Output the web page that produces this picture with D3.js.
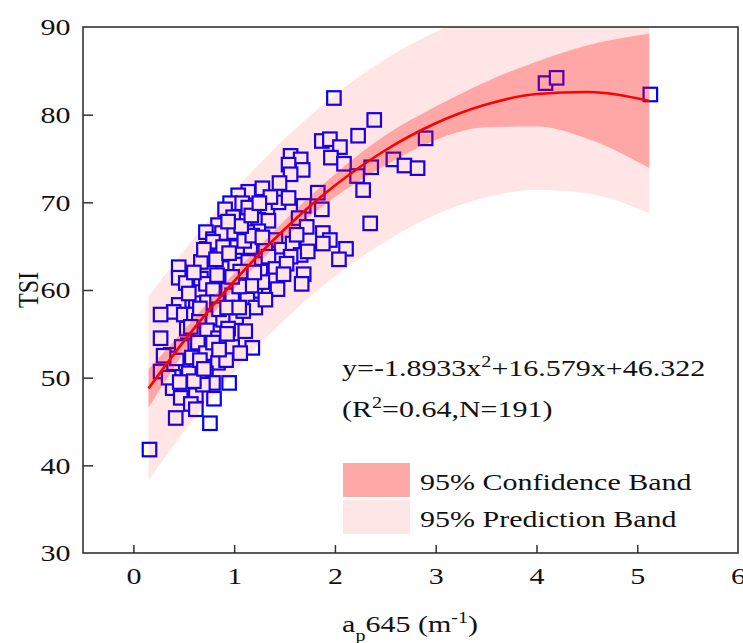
<!DOCTYPE html>
<html><head><meta charset="utf-8">
<script src="https://cdn.jsdelivr.net/npm/d3@7"></script>
<style>
html,body{margin:0;padding:0;background:#fff;}
svg text{font-family:"Liberation Serif","Times New Roman",serif;fill:#111;}
</style></head>
<body>
<svg id="chart" width="743" height="643"></svg>
<script>
// ---------- data ----------
const xTicks = [0, 1, 2, 3, 4, 5, 6];
const yTicks = [30, 40, 50, 60, 70, 80, 90];

const pointsX = [
  1.99,2.39,2.23,1.87,1.95,2.05,1.96,2.09,2.22,2.36,2.58,2.69,2.82,2.90,2.28,2.35,4.09,4.20,5.13,
  1.56,1.66,1.54,1.68,1.56,1.45,1.28,1.14,1.04,0.96,1.08,0.91,1.14,1.33,1.44,1.54,1.69,1.83,1.87,
  0.99,0.84,0.72,0.79,0.88,1.00,1.24,1.34,1.24,1.13,1.64,1.72,1.88,1.95,1.59,1.41,1.47,1.21,1.16,1.31,1.58,1.03,0.73,0.79,0.89,2.11,1.88,
  2.04,1.69,1.66,1.56,1.43,1.34,1.26,1.41,1.39,1.43,1.29,1.09,1.21,1.28,0.73,0.67,0.89,1.01,0.45,0.45,0.67,0.72,0.52,0.89,0.79,0.94,1.67,1.14,1.06,
  0.45,0.62,0.73,0.83,0.98,0.40,0.50,0.60,0.65,0.79,0.89,1.02,0.73,0.94,0.27,0.27,1.13,1.21,1.09,1.11,1.31,0.53,0.84,
  0.37,0.27,0.54,0.64,0.72,0.79,0.98,0.84,0.95,0.52,0.62,0.40,0.55,0.72,0.79,0.39,0.50,0.62,0.47,0.69,0.42,0.76,0.16,1.18,1.06,0.92,0.57,
  0.35,0.43,0.48,0.58,0.66,0.60,0.70,0.85,0.93,0.57,0.66,0.85,0.93,1.05,1.17,1.05,0.98,0.83,0.60,0.55,
  0.70,0.82,0.95,1.10,1.18,1.28,1.07,0.94,1.17,1.36,1.25,1.62,1.52,1.73,1.49,1.20,0.30,0.46,0.80,0.62
];
const pointsY = [
  81.9,79.4,77.6,77.0,77.2,76.3,75.1,74.4,73.0,74.0,74.9,74.2,73.9,77.3,71.4,67.6,83.6,84.2,82.3,
  75.3,74.9,74.3,73.7,73.2,72.2,71.6,71.2,70.8,69.9,69.9,69.2,69.4,69.1,70.0,70.5,69.6,71.1,69.2,
  68.3,67.4,66.6,65.8,66.5,66.6,68.0,67.9,66.7,66.6,68.2,67.2,66.5,65.7,64.9,65.7,64.6,65.7,64.9,64.5,65.3,64.9,64.7,65.5,64.9,64.7,65.3,
  63.5,61.8,64.0,63.8,63.4,63.8,62.1,62.4,61.1,60.1,60.0,60.2,59.9,60.9,63.7,63.2,62.5,62.9,62.6,61.4,61.3,60.7,60.8,60.9,60.0,60.0,60.7,63.2,62.1,
  58.3,58.5,58.6,58.6,59.4,57.5,57.2,57.2,56.5,56.8,56.6,56.9,55.4,55.6,54.5,57.2,58.9,58.0,57.6,55.3,58.9,55.6,54.5,
  52.6,50.7,53.7,54.0,52.8,54.0,53.5,51.7,49.4,51.2,51.5,50.1,50.5,50.5,49.4,48.8,48.6,48.0,47.7,49.2,45.4,44.8,41.8,53.4,52.8,52.0,47.0,
  50.0,52.2,53.5,52.3,52.0,49.6,51.0,53.2,55.0,55.8,57.9,57.8,58.0,58.0,60.5,60.4,61.5,61.7,62.0,59.6,
  64.6,63.5,64.2,65.6,66.2,66.0,67.3,67.8,68.5,70.6,69.9,66.3,63.0,64.4,61.8,62.0,52.5,49.5,47.6,46.4
];

// fitted curve and bands, read at these x positions
const bandX     = [0.15, 0.5, 1.0, 1.5, 2.0, 2.5, 3.0, 3.5, 4.0, 4.5, 5.12];
const fitY      = [48.77, 54.14, 61.01, 66.93, 71.91, 75.94, 79.02, 81.16, 82.35, 82.59, 81.57];
const confLow   = [46.57, 52.84, 60.11, 65.93, 70.61, 74.24, 77.12, 78.56, 78.65, 77.29, 73.92];
const confHigh  = [50.97, 55.44, 61.91, 67.93, 73.21, 77.64, 80.92, 83.76, 86.05, 87.89, 89.22];
const predLow   = [38.28, 43.80, 50.71, 56.62, 61.57, 65.54, 68.58, 70.57, 71.44, 71.04, 68.77];
const predHigh  = [59.26, 64.48, 71.31, 77.24, 82.25, 86.34, 89.46, 91.75, 93.26, 94.14, 94.37];

const legendLabels = ["95% Confidence Band", "95% Prediction Band"];

// ---------- layout ----------
const L = 83, R = 738, T = 27, B = 553;
const SX = 1.25; // horizontal glyph stretch of the original
const svg = d3.select("#chart");
const x = d3.scaleLinear().domain([-0.5, 6]).range([L, R]);
const y = d3.scaleLinear().domain([30, 90]).range([B, T]);

svg.append("defs").append("clipPath").attr("id", "clip")
  .append("rect").attr("x", L).attr("y", T).attr("width", R - L).attr("height", B - T);

function stext(parent, px, py, anchor, size) {
  return parent.append("text")
    .attr("transform", `translate(${px},${py}) scale(${SX},1)`)
    .attr("text-anchor", anchor)
    .style("font-family", '"Liberation Serif", serif')
    .style("font-size", (size || 24) + "px");
}

const plot = svg.append("g").attr("clip-path", "url(#clip)");

// points (drawn under the bands)
const S = 13.5;
plot.append("g").selectAll("rect").data(pointsX.map((v, i) => [v, pointsY[i]])).join("rect")
  .attr("x", d => x(d[0]) - S / 2).attr("y", d => y(d[1]) - S / 2)
  .attr("width", S).attr("height", S)
  .attr("fill", "#fff").attr("stroke", "#0000ff").attr("stroke-width", 2.2);

const bandData = bandX.map((v, i) => ({x: v, f: fitY[i], cl: confLow[i], ch: confHigh[i], pl: predLow[i], ph: predHigh[i]}));
const curve = d3.curveMonotoneX;
plot.append("path").datum(bandData)
  .attr("d", d3.area().curve(curve).x(d => x(d.x)).y0(d => y(d.pl)).y1(d => y(d.ph)))
  .attr("fill", "rgb(255,0,0)").attr("fill-opacity", 0.1);
plot.append("path").datum(bandData)
  .attr("d", d3.area().curve(curve).x(d => x(d.x)).y0(d => y(d.cl)).y1(d => y(d.ch)))
  .attr("fill", "rgb(255,0,0)").attr("fill-opacity", 0.27);
plot.append("path").datum(bandData)
  .attr("d", d3.line().curve(curve).x(d => x(d.x)).y(d => y(d.f)))
  .attr("fill", "none").attr("stroke", "#ff0000").attr("stroke-width", 2.6);

// axes
const xAxis = svg.append("g").attr("transform", `translate(0,${B})`)
  .call(d3.axisBottom(x).tickValues(xTicks).tickSizeInner(-8).tickSizeOuter(0).tickPadding(14).tickFormat(d3.format("d")));
const yAxis = svg.append("g").attr("transform", `translate(${L},0)`)
  .call(d3.axisLeft(y).tickValues(yTicks).tickSizeInner(-10).tickSizeOuter(0).tickPadding(10).tickFormat(d3.format("d")));
[xAxis, yAxis].forEach(a => {
  a.attr("font-family", null).attr("font-size", null);
  a.select(".domain").remove();
  a.selectAll("line").attr("stroke", "#333").attr("stroke-width", 1.5);
  a.selectAll("text").style("font-family", '"Liberation Serif", serif').style("font-size", "24px").attr("fill", "#111")
    .attr("transform", `scale(${SX},1)`);
});
xAxis.selectAll(".tick").filter(d => d === 6).select("line").remove();
yAxis.selectAll(".tick").filter(d => d === 30 || d === 90).select("line").remove();

// frame
svg.append("rect").attr("x", L).attr("y", T).attr("width", R - L).attr("height", B - T)
  .attr("fill", "none").attr("stroke", "#333").attr("stroke-width", 1.6);

// axis titles
const xt = stext(svg, 410, 632, "middle");
xt.append("tspan").text("a");
xt.append("tspan").attr("baseline-shift", "sub").style("font-size", "16px").text("p");
xt.append("tspan").text("645 (m");
xt.append("tspan").attr("baseline-shift", "super").style("font-size", "16px").text("-1");
xt.append("tspan").text(")");

svg.append("text")
  .attr("transform", `translate(38,290) scale(${SX},1) rotate(-90)`)
  .attr("text-anchor", "middle").style("font-family", '"Liberation Serif", serif').style("font-size", "24px").text("TSI");

// equation
const eq = stext(svg, 342, 376, "start");
eq.append("tspan").text("y=-1.8933x");
eq.append("tspan").attr("baseline-shift", "super").style("font-size", "16px").text("2");
eq.append("tspan").text("+16.579x+46.322");
const r2 = stext(svg, 342, 417, "start");
r2.append("tspan").text("(R");
r2.append("tspan").attr("baseline-shift", "super").style("font-size", "16px").text("2");
r2.append("tspan").text("=0.64,N=191)");

// legend
const legColors = ["#ffa8a8", "#ffe6e6"];
legendLabels.forEach((lab, i) => {
  const top = 463 + i * 37;
  svg.append("rect").attr("x", 343).attr("y", top).attr("width", 67).attr("height", 34)
    .attr("fill", legColors[i]);
  stext(svg, 420, top + 27, "start").text(lab);
});
</script>
</body></html>
